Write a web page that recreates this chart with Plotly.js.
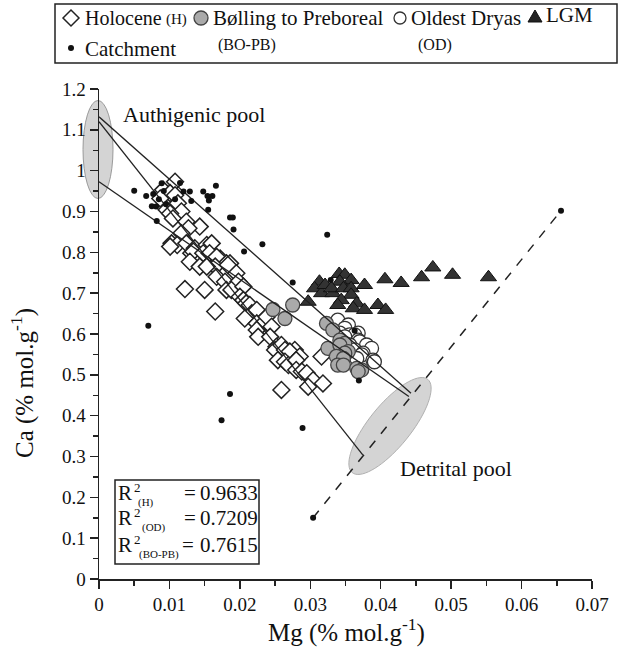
<!DOCTYPE html>
<html><head><meta charset="utf-8">
<script src="https://cdn.plot.ly/plotly-3.0.1.min.js"></script>
<style>body{margin:0;background:#fff}</style>
</head><body>
<div id="chart" style="width:627px;height:659px"></div>
<script>
// ---------------- DATA ----------------
const holoceneMg = [0.0108,0.0091,0.0101,0.0108,0.0087,0.0112,0.0117,0.0096,0.0101,0.0105,0.0124,0.0143,0.0127,0.0117,0.0103,0.0111,0.0101,0.0124,0.0136,0.0131,0.0134,0.0153,0.0160,0.0148,0.0157,0.0172,0.0167,0.0181,0.0186,0.0129,0.0143,0.0165,0.0153,0.0183,0.0167,0.0179,0.0195,0.0198,0.0122,0.0150,0.0181,0.0188,0.0205,0.0200,0.0205,0.0209,0.0214,0.0165,0.0217,0.0224,0.0207,0.0224,0.0233,0.0238,0.0224,0.0245,0.0226,0.0243,0.0252,0.0250,0.0259,0.0264,0.0278,0.0271,0.0285,0.0254,0.0264,0.0269,0.0280,0.0280,0.0288,0.0295,0.0304,0.0318,0.0297,0.0259,0.0316];
const holoceneCa = [0.973,0.953,0.945,0.940,0.932,0.920,0.900,0.904,0.895,0.883,0.875,0.863,0.859,0.847,0.822,0.818,0.814,0.822,0.810,0.798,0.802,0.818,0.822,0.798,0.798,0.785,0.789,0.773,0.773,0.777,0.765,0.765,0.765,0.769,0.740,0.728,0.749,0.728,0.710,0.708,0.708,0.708,0.716,0.691,0.683,0.675,0.671,0.655,0.651,0.659,0.638,0.626,0.626,0.642,0.610,0.618,0.593,0.593,0.569,0.561,0.573,0.561,0.561,0.557,0.545,0.536,0.532,0.524,0.536,0.512,0.508,0.504,0.487,0.479,0.471,0.463,0.545];

const boPbMg = [0.0247,0.0275,0.0264,0.0323,0.0332,0.0342,0.0349,0.0325,0.0342,0.0354,0.0349,0.0337,0.0347,0.0339,0.0347,0.0366,0.0373,0.0368];
const boPbCa = [0.660,0.671,0.638,0.626,0.610,0.585,0.577,0.565,0.573,0.557,0.553,0.545,0.540,0.524,0.524,0.516,0.512,0.508];

const odMg = [0.0339,0.0354,0.0349,0.0342,0.0356,0.0368,0.0363,0.0349,0.0368,0.0370,0.0380,0.0356,0.0387,0.0363,0.0375,0.0373,0.0366,0.0389,0.0391];
const odCa = [0.634,0.622,0.614,0.602,0.598,0.602,0.598,0.593,0.585,0.581,0.573,0.573,0.565,0.561,0.553,0.549,0.540,0.536,0.532];

const lgmMg = [0.0297,0.0313,0.0306,0.0316,0.0321,0.0341,0.0349,0.0358,0.0342,0.0332,0.0330,0.0347,0.0358,0.0358,0.0344,0.0339,0.0366,0.0361,0.0377,0.0377,0.0396,0.0407,0.0406,0.0429,0.0458,0.0474,0.0502,0.0553];
const lgmCa = [0.679,0.728,0.712,0.700,0.720,0.747,0.745,0.732,0.728,0.700,0.712,0.712,0.712,0.696,0.683,0.671,0.675,0.663,0.720,0.659,0.671,0.659,0.734,0.725,0.739,0.763,0.745,0.739];

const catchMg = [0.0050,0.0067,0.0075,0.0082,0.0077,0.0081,0.0085,0.0089,0.0092,0.0095,0.0108,0.0115,0.0120,0.0129,0.0131,0.0148,0.0154,0.0161,0.0156,0.0166,0.0155,0.0186,0.0190,0.0191,0.0206,0.0232,0.0324,0.0275,0.0329,0.0363,0.0369,0.0070,0.0186,0.0174,0.0289,0.0304,0.0656];
const catchCa = [0.951,0.938,0.913,0.877,0.943,0.912,0.930,0.969,0.950,0.918,0.930,0.970,0.949,0.949,0.926,0.949,0.938,0.938,0.927,0.963,0.904,0.885,0.885,0.856,0.802,0.820,0.843,0.726,0.732,0.608,0.486,0.620,0.453,0.389,0.370,0.150,0.902];

// regression / mixing lines (end points)
const lineH_Mg  = [0, 0.03745], lineH_Ca  = [1.120, 0.304];
const lineOD_Mg = [0, 0.0443],  lineOD_Ca = [1.132, 0.455];
const lineBO_Mg = [0, 0.0440],  lineBO_Ca = [0.973, 0.447];
const mixMg = [0.0304, 0.0656], mixCa = [0.150, 0.902];

const r2Labels = ['(H)', '(OD)', '(BO-PB)'];
const r2Values = ['0.9633', '0.7209', '0.7615'];
const xTitle = 'Mg (% mol.g<sup>-1</sup>)';
const yTitle = 'Ca (% mol.g<sup>-1</sup>)';

// ---------------- GEOMETRY ----------------
const W=627, H=659, ML=99, MR=35, MT=89, MB=80;
const PW=W-ML-MR, PH=H-MT-MB;
const XMAX=0.07, YMAX=1.2;
const px = p => (p-ML)/PW;          // pixel x -> paper
const py = p => (H-MB-p)/PH;        // pixel y -> paper
const serif = 'Liberation Serif';
const ink = '#111111';

function ellipsePath(cx, cy, a, b, angDeg){ // pixel-space ellipse -> paper path
  const th = angDeg*Math.PI/180; let s='';
  for(let i=0;i<=72;i++){
    const t=i/72*2*Math.PI;
    const x = cx + a*Math.cos(t)*Math.cos(th) - b*Math.sin(t)*Math.sin(th);
    const y = cy - (a*Math.cos(t)*Math.sin(th) + b*Math.sin(t)*Math.cos(th));
    s += (i?'L':'M') + px(x).toFixed(5) + ',' + py(y).toFixed(5);
  }
  return s+'Z';
}
function ann(text, x, y, size, xanchor, extra){
  return Object.assign({text:text, xref:'paper', yref:'paper', x:px(x), y:py(y), xanchor:xanchor||'left', yanchor:'middle',
    showarrow:false, font:{family:serif, size:size, color:ink}}, extra||{});
}

// ---------------- TRACES ----------------
const lineStyle = {color:'#222', width:1.3};
const traces = [
  {x:holoceneMg, y:holoceneCa, mode:'markers', type:'scatter',
   marker:{symbol:'diamond', size:13, color:'#fff', line:{color:'#222', width:1.5}}},
  {x:odMg, y:odCa, mode:'markers', type:'scatter',
   marker:{symbol:'circle', size:14, color:'#fff', line:{color:'#333', width:1.3}}},
  {x:boPbMg, y:boPbCa, mode:'markers', type:'scatter',
   marker:{symbol:'circle', size:14, color:'#aaaaaa', line:{color:'#444', width:1.3}}},
  {x:lgmMg, y:lgmCa, mode:'markers', type:'scatter',
   marker:{symbol:'triangle-up', size:14, color:'#333', line:{color:'#111', width:1}}},
  {x:lineH_Mg, y:lineH_Ca, mode:'lines', type:'scatter', line:lineStyle},
  {x:lineOD_Mg, y:lineOD_Ca, mode:'lines', type:'scatter', line:lineStyle},
  {x:lineBO_Mg, y:lineBO_Ca, mode:'lines', type:'scatter', line:lineStyle},
  {x:mixMg, y:mixCa, mode:'lines', type:'scatter', line:{color:'#222', width:1.5, dash:'dash'}},
  {x:catchMg, y:catchCa, mode:'markers', type:'scatter',
   marker:{symbol:'circle', size:6, color:'#111'}}
];

// ---------------- SHAPES ----------------
const shapes = [
  {type:'circle', xref:'paper', yref:'paper', x0:px(83), x1:px(113), y0:py(198.5), y1:py(100.5),
   fillcolor:'#d4d4d4', line:{color:'#9a9a9a', width:1}, layer:'below'},
  {type:'path', xref:'paper', yref:'paper', path:ellipsePath(390, 426, 60, 21, 51),
   fillcolor:'#d4d4d4', line:{color:'#b0b0b0', width:1}, layer:'below'},
  {type:'rect', xref:'paper', yref:'paper', x0:px(115), x1:px(259), y0:py(564), y1:py(480),
   fillcolor:'#fff', line:{color:'#222', width:1.5}, layer:'below'},
  {type:'rect', xref:'paper', yref:'paper', x0:px(55), x1:px(617), y0:py(63), y1:py(4),
   line:{color:'#222', width:1.5}},
  {type:'path', xref:'paper', yref:'paper',
   path:`M${px(63)},${py(18)}L${px(71)},${py(10)}L${px(79)},${py(18)}L${px(71)},${py(26)}Z`,
   fillcolor:'#fff', line:{color:'#222', width:1.5}},
  {type:'circle', xref:'paper', yref:'paper', x0:px(194), x1:px(208), y0:py(25), y1:py(11),
   fillcolor:'#aaaaaa', line:{color:'#444', width:1.3}},
  {type:'circle', xref:'paper', yref:'paper', x0:px(394), x1:px(406), y0:py(24), y1:py(12),
   fillcolor:'#fff', line:{color:'#333', width:1.3}},
  {type:'path', xref:'paper', yref:'paper',
   path:`M${px(528)},${py(22)}L${px(542)},${py(22)}L${px(535)},${py(10)}Z`,
   fillcolor:'#222', line:{color:'#111', width:1}},
  {type:'circle', xref:'paper', yref:'paper', x0:px(68), x1:px(74), y0:py(51), y1:py(45),
   fillcolor:'#111', line:{color:'#111', width:0}}
];

// ---------------- ANNOTATIONS ----------------
const annotations = [
  ann('Authigenic pool', 121, 115, 22),
  ann('Detrital pool', 398, 468, 22),
  ann('Holocene', 83, 18, 20), ann('(H)', 164, 19, 15),
  ann('Bølling to Preboreal', 211, 18, 21), ann('(BO-PB)', 216, 45, 16),
  ann('Oldest Dryas', 409, 18, 21), ann('(OD)', 416, 45, 16),
  ann('LGM', 544, 15, 21),
  ann('Catchment', 83, 49, 21),
  ann(xTitle, 346, 630, 25, 'center'),
  ann(yTitle, 22, 383, 25, 'center', {textangle:-90})
];
const rowY = [493, 518, 545];
const eqX = [182, 182, 180];
rowY.forEach((y, i) => {
  annotations.push(ann('R', 116, y, 21));
  annotations.push(ann('2', 132, y-6, 13));
  annotations.push(ann(r2Labels[i], i===0?136:(i===1?140:137), y+9, 11));
  annotations.push(ann('=', eqX[i], y, 21));
  annotations.push(ann(r2Values[i], 198, y, 21));
});

// ---------------- LAYOUT ----------------
const axisCommon = {
  showgrid:false, zeroline:false, showline:true, linecolor:'#222', linewidth:1.5,
  ticks:'outside', ticklen:8, tickwidth:1.5, tickcolor:'#222',
  tickfont:{family:serif, size:19, color:ink}, fixedrange:true
};
const layout = {
  width:W, height:H, margin:{l:ML, r:MR, t:MT, b:MB, pad:0},
  font:{family:serif, color:ink},
  paper_bgcolor:'#fff', plot_bgcolor:'rgba(0,0,0,0)', showlegend:false,
  xaxis: Object.assign({}, axisCommon, {range:[0, XMAX], dtick:0.01, tick0:0,
    minor:{dtick:0.005, ticks:'outside', ticklen:5, tickwidth:1.5, tickcolor:'#222'}}),
  yaxis: Object.assign({}, axisCommon, {range:[0, YMAX], dtick:0.1, tick0:0,
    minor:{dtick:0.05, ticks:'outside', ticklen:5, tickwidth:1.5, tickcolor:'#222'}}),
  shapes:shapes, annotations:annotations
};
Plotly.newPlot('chart', traces, layout, {displayModeBar:false, staticPlot:true});
</script>
</body></html>
